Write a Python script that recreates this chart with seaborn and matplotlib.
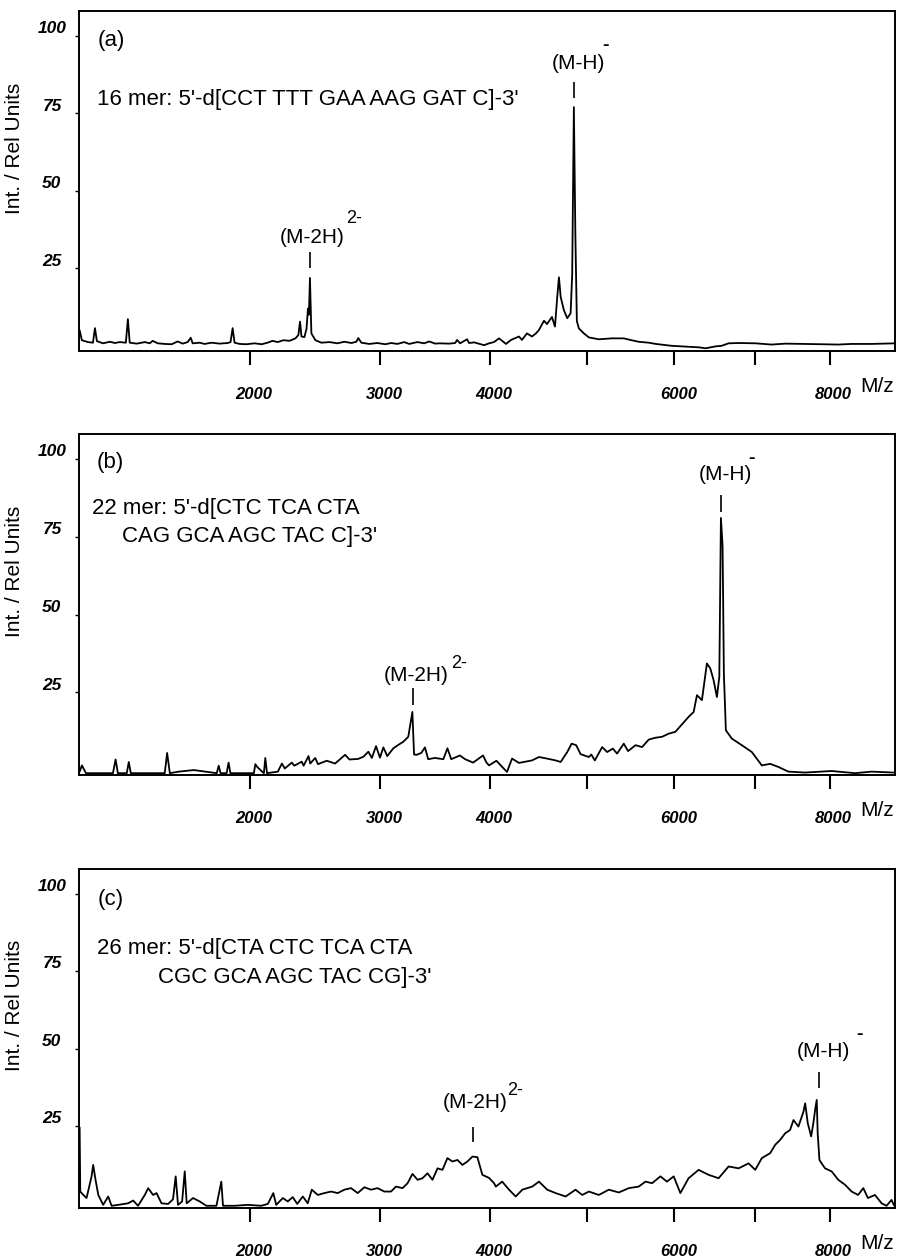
import numpy as np
import pandas as pd
import matplotlib
matplotlib.use("Agg")
import matplotlib.pyplot as plt
from matplotlib.transforms import ScaledTranslation
import seaborn as sns

# ---------------- data (m/z, relative intensity) ----------------
a_mz = [1000, 1011, 1041, 1066, 1076, 1086, 1117, 1153, 1179, 1205, 1238, 1249, 1259, 1298,
        1343, 1371, 1388, 1417, 1458, 1499, 1535, 1566, 1596, 1615, 1627, 1671, 1702, 1747,
        1799, 1852, 1871, 1885, 1898, 1932, 1979, 2035, 2084, 2126, 2161, 2198, 2241, 2285,
        2329, 2351, 2363, 2374, 2396, 2412, 2423, 2430, 2438, 2449, 2480, 2526, 2589, 2651,
        2707, 2764, 2804, 2820, 2845, 2911, 2978, 3045, 3097, 3148, 3209, 3252, 3324, 3385,
        3430, 3485, 3521, 3613, 3669, 3687, 3715, 3781, 3800, 3848, 3944, 3992, 4040, 4090,
        4159, 4209, 4289, 4319, 4370, 4421, 4462, 4493, 4545, 4576, 4628, 4660, 4684, 4702,
        4720, 4754, 4790, 4826, 4843, 4861, 4877, 4893, 4915, 4969, 5024, 5133, 5278, 5412,
        5500, 5583, 5700, 5781, 5969, 6172, 6300, 6380, 6500, 6579, 6666, 6800, 7010, 7217,
        7400, 7668, 7900, 8118, 8300, 8583, 8930]
a_int = [5.0, 1.8, 1.2, 1.0, 5.7, 1.5, 0.8, 1.3, 0.9, 1.2, 1.0, 8.6, 1.0, 0.7,
         1.2, 0.8, 1.6, 0.8, 0.6, 0.5, 1.4, 0.7, 1.2, 2.6, 0.8, 1.0, 0.6, 1.0,
         0.7, 0.9, 1.2, 5.7, 1.0, 0.6, 0.5, 0.8, 0.5, 1.0, 1.6, 1.2, 1.8, 1.6,
         2.4, 3.5, 7.8, 3.0, 2.8, 5.5, 12.0, 10.0, 21.9, 4.0, 1.8, 1.0, 1.2, 0.8,
         1.3, 0.9, 1.3, 2.5, 1.0, 0.6, 0.9, 0.5, 0.9, 0.6, 1.2, 0.6, 1.2, 0.8,
         1.4, 0.7, 0.8, 0.7, 0.9, 1.9, 0.8, 2.1, 0.9, 1.1, 0.2, 0.8, 1.2, 2.4,
         0.6, 1.9, 3.0, 1.9, 4.0, 3.0, 4.0, 5.1, 8.1, 7.0, 9.3, 6.2, 15.8, 22.1,
         15.8, 11.5, 8.9, 10.5, 23.0, 77.0, 36.0, 8.0, 5.6, 4.0, 2.7, 2.1, 2.4, 2.4,
         1.8, 1.3, 1.0, 0.6, 0.0, -0.3, -0.5, -0.8, -0.2, 0.0, 0.8, 0.9, 0.8, 0.4,
         0.7, 0.6, 0.5, 0.4, 0.6, 0.6, 0.8]

b_mz = [1000, 1011, 1031, 1169, 1183, 1195, 1243, 1254, 1265, 1458, 1472, 1488, 1542, 1634,
        1780, 1793, 1805, 1845, 1858, 1870, 2030, 2040, 2055, 2100, 2110, 2122, 2200, 2229,
        2250, 2302, 2320, 2376, 2390, 2427, 2440, 2478, 2500, 2567, 2633, 2713, 2748, 2820,
        2862, 2903, 2932, 2967, 3000, 3029, 3062, 3114, 3157, 3200, 3244, 3280, 3295, 3317,
        3359, 3392, 3421, 3482, 3559, 3597, 3632, 3713, 3762, 3838, 3934, 3965, 3992, 4064,
        4121, 4169, 4219, 4289, 4421, 4493, 4576, 4667, 4720, 4790, 4837, 4886, 4934, 5024,
        5050, 5089, 5170, 5225, 5289, 5337, 5412, 5461, 5546, 5622, 5699, 5777, 5855, 5933,
        6013, 6092, 6172, 6234, 6274, 6335, 6396, 6438, 6479, 6520, 6550, 6570, 6591, 6607,
        6616, 6632, 6708, 6834, 6962, 7091, 7200, 7308, 7440, 7665, 8027, 8353, 8588, 8900]
b_int = [-0.5, 1.5, -1.0, -1.0, 3.4, -1.0, -1.0, 2.6, -1.0, -1.0, 5.5, -1.0, -0.5, 0.0,
         -1.0, 1.4, -1.0, -1.0, 2.4, -1.0, -1.0, 1.9, 0.9, -1.0, 3.9, -1.0, -0.5, 2.1,
         0.5, 2.4, 1.4, 2.7, 1.4, 4.5, 2.1, 3.9, 1.9, 3.0, 2.1, 4.9, 3.4, 3.6,
         4.3, 5.9, 3.9, 7.7, 4.0, 7.3, 4.5, 7.0, 8.1, 9.1, 10.7, 18.7, 5.0, 4.9,
         5.5, 7.3, 3.5, 3.9, 3.5, 7.0, 3.5, 4.7, 3.5, 2.4, 4.7, 2.5, 1.5, 3.0,
         1.0, -0.6, 3.7, 2.3, 3.1, 4.2, 3.7, 3.1, 2.6, 5.8, 8.5, 8.0, 5.1, 4.2,
         5.0, 3.1, 7.4, 5.8, 6.9, 5.3, 8.5, 6.1, 8.0, 7.4, 9.8, 10.4, 10.7, 11.7,
         12.3, 14.7, 17.1, 18.7, 24.1, 22.5, 34.3, 32.7, 28.9, 23.5, 30.0, 81.1, 72.0, 31.0,
         24.6, 12.8, 10.1, 8.0, 5.8, 1.5, 2.0, 1.0, -0.5, -0.8, -0.3, -1.0, -0.5, -0.8]

c_mz = [1000, 1003, 1018, 1034, 1059, 1067, 1079, 1093, 1118, 1144, 1162, 1197, 1250, 1278,
        1305, 1343, 1362, 1390, 1410, 1439, 1478, 1507, 1523, 1537, 1562, 1578, 1590, 1629,
        1671, 1713, 1778, 1810, 1821, 1898, 1988, 2081, 2128, 2167, 2188, 2236, 2272, 2309,
        2342, 2384, 2421, 2452, 2498, 2549, 2602, 2654, 2707, 2761, 2815, 2870, 2925, 2980,
        3037, 3094, 3137, 3194, 3238, 3281, 3326, 3370, 3415, 3460, 3506, 3551, 3597, 3643,
        3690, 3737, 3784, 3832, 3879, 3927, 3992, 4041, 4058, 4121, 4189, 4256, 4323, 4424,
        4493, 4579, 4667, 4773, 4879, 4951, 5024, 5133, 5244, 5356, 5469, 5583, 5661, 5738,
        5836, 5913, 5993, 6073, 6172, 6294, 6417, 6541, 6666, 6793, 6920, 7006, 7091, 7200,
        7266, 7331, 7397, 7463, 7508, 7574, 7642, 7665, 7700, 7746, 7776, 7800, 7822, 7835,
        7859, 7889, 7936, 8027, 8118, 8212, 8305, 8396, 8470, 8535, 8636, 8731, 8803, 8875,
        8915]
c_int = [24.5, 3.8, 2.7, 1.7, 8.7, 12.4, 7.6, 2.7, -0.5, 2.2, -0.8, -0.5, 0.0, 0.9,
         -0.8, 2.7, 4.9, 2.7, 3.3, 0.0, -0.2, 1.3, 8.7, -0.5, 0.6, 10.3, 0.0, 1.7,
         0.6, -0.8, -0.8, 7.0, -0.8, -0.8, -0.5, -0.8, -0.2, 3.3, -0.5, 1.7, 0.6, 2.0,
         -0.2, 2.2, 0.0, 4.4, 2.7, 3.3, 3.8, 3.3, 4.4, 4.9, 3.3, 5.2, 4.4, 4.9,
         3.8, 3.8, 5.4, 4.9, 6.5, 9.5, 7.6, 8.1, 9.7, 7.6, 11.3, 10.8, 14.6, 13.5,
         14.0, 12.4, 13.5, 15.1, 14.9, 9.2, 8.2, 6.5, 5.4, 7.0, 4.4, 2.2, 4.4, 5.4,
         7.0, 4.4, 3.3, 2.2, 4.4, 2.7, 3.8, 2.7, 4.4, 3.5, 4.9, 5.4, 7.0, 6.5,
         8.7, 7.0, 8.7, 3.3, 8.1, 10.8, 9.2, 8.1, 11.9, 11.3, 12.9, 10.8, 14.6, 16.2,
         18.9, 20.5, 22.6, 23.7, 26.9, 24.8, 29.6, 32.3, 25.9, 21.6, 25.9, 30.2, 33.4, 22.6,
         14.0, 12.9, 11.3, 10.3, 7.6, 6.0, 3.8, 2.7, 4.9, 1.7, 2.7, 0.0, -0.8, 1.1,
         -0.8]

x_ticks = [2000, 3000, 4000, 5000, 6000, 7000, 8000]
x_ticklabels = ["2000", "3000", "4000", "", "6000", "", "8000"]
y_ticks = [25, 50, 75, 100]
y_ticklabels = ["25", "50", "75", "100"]

panel_tags = ["(a)", "(b)", "(c)"]
seq_line1 = ["16 mer: 5'-d[CCT TTT GAA AAG GAT C]-3'",
             "22 mer: 5'-d[CTC TCA CTA",
             "26 mer: 5'-d[CTA CTC TCA CTA"]
seq_line2 = ["", "CAG GCA AGC TAC C]-3'", "CGC GCA AGC TAC CG]-3'"]

mh_peak = [4865, 6574, 7850]
m2h_peak = [2438, 3288, 3838]

# ---------------- style ----------------
sns.set_theme(style="white")
plt.rcParams["font.family"] = ["Liberation Sans", "DejaVu Sans"]
for key in ["text.color", "axes.labelcolor", "xtick.color", "ytick.color", "axes.edgecolor"]:
    plt.rcParams[key] = "black"
plt.rcParams["axes.linewidth"] = 1.4

fig = plt.figure(figsize=(8.98, 12.59), dpi=100)
rects = [[0.088, 0.7214, 0.909, 0.2698],
         [0.088, 0.3844, 0.909, 0.2706],
         [0.088, 0.0403, 0.909, 0.2695]]

datasets = [(a_mz, a_int), (b_mz, b_int), (c_mz, c_int)]

seq1_pos = [(0.022, 0.741), (0.016, 0.781), (0.022, 0.767)]
seq2_pos = [None, (0.053, 0.699), (0.097, 0.681)]
tag_pos = [(0.023, 0.912), (0.021, 0.916), (0.023, 0.909)]

mh_lab = [(4915, 91.2, 5210, 97.0, 85.1, 79.9),
          (6629, 95.1, 6958, 100.2, 88.6, 83.1),
          (7913, 48.9, 8413, 54.4, 42.4, 37.3)]
m2h_lab = [(2457, 35.1, 2788, 41.2, 30.3, 25.1),
           (3314, 30.5, 3706, 34.4, 26.4, 20.9),
           (3857, 32.7, 4249, 36.6, 24.7, 19.8)]

fwd = lambda v: np.sqrt(np.clip(v, 0, None))
inv = lambda v: np.square(v)

for i, rect in enumerate(rects):
    ax = fig.add_axes(rect)
    ax.set_xscale("function", functions=(fwd, inv))
    mz, inten = datasets[i]
    df = pd.DataFrame({"mz": mz, "int": inten})
    sns.lineplot(data=df, x="mz", y="int", ax=ax, color="black", lw=1.3,
                 estimator=None, sort=False)
    ax.set_xlim(997, 8930)
    ax.set_ylim(-1.6, 108)
    ax.set_xticks(x_ticks)
    ax.set_xticklabels(x_ticklabels, fontsize=12, fontweight="bold", fontstyle="italic")
    ax.set_yticks(y_ticks)
    ax.set_yticklabels(y_ticklabels, fontsize=12.5, fontweight="bold", fontstyle="italic")
    ax.tick_params(axis="x", direction="out", length=10, width=1.5, pad=16, colors="black",
                   bottom=True)
    ax.tick_params(axis="y", direction="out", length=3, width=1.0, pad=16.5, colors="black",
                   left=True)
    for lab in ax.get_yticklabels():
        lab.set_ha("center")
        lab.set_va("baseline")
        lab.set_transform(lab.get_transform() + ScaledTranslation(0, 2 / 72, fig.dpi_scale_trans))
    for lab in ax.get_xticklabels():
        lab.set_transform(lab.get_transform() + ScaledTranslation(4 / 100, 0, fig.dpi_scale_trans))
    ax.set_xlabel("")
    ax.set_ylabel("Int. / Rel Units", fontsize=15, color="black")
    ax.yaxis.set_label_coords(-0.068, 0.597)
    for s in ax.spines.values():
        s.set_color("black")
        s.set_linewidth(1.4)

    ax.text(0.978, -0.104, "M/z", transform=ax.transAxes, ha="center", va="center", fontsize=15)
    ax.text(*tag_pos[i], panel_tags[i], transform=ax.transAxes, ha="left", va="center", fontsize=16)
    ax.text(*seq1_pos[i], seq_line1[i], transform=ax.transAxes, ha="left", va="center", fontsize=16)
    if seq2_pos[i] is not None:
        ax.text(*seq2_pos[i], seq_line2[i], transform=ax.transAxes, ha="left", va="center", fontsize=16)

    lx, ly, sx, sy, t0, t1 = mh_lab[i]
    ax.text(lx, ly, "(M-H)", ha="center", va="center", fontsize=15)
    ax.text(sx, sy, "-", ha="center", va="center", fontsize=14, fontweight="bold")
    ax.vlines(mh_peak[i], t1, t0, color="black", lw=1.2)

    lx, ly, sx, sy, t0, t1 = m2h_lab[i]
    ax.text(lx, ly, "(M-2H)", ha="center", va="center", fontsize=15)
    ax.text(sx, sy, "2-", ha="center", va="center", fontsize=13)
    ax.vlines(m2h_peak[i], t1, t0, color="black", lw=1.2)

fig.savefig("out.png", dpi=100, facecolor="white")
